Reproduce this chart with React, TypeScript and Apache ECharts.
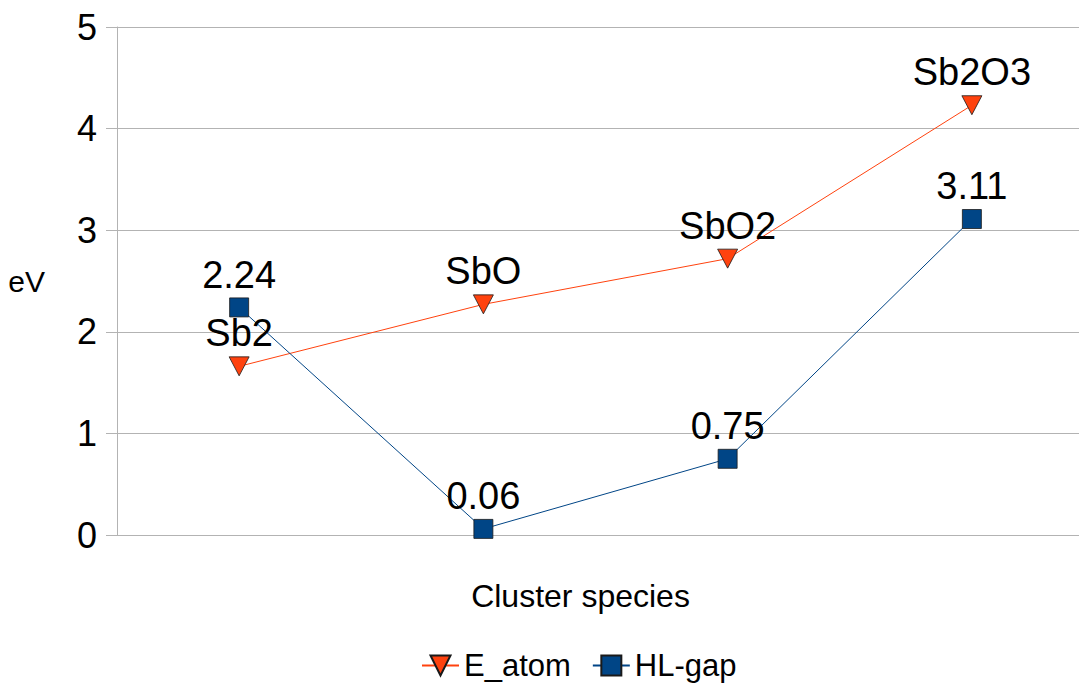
import React, { useEffect, useRef } from "react";
import * as echarts from "echarts";

// Cluster species on the category axis
const species = ["Sb2", "SbO", "SbO2", "Sb2O3"];
// Atomization energy per atom (eV)
const eAtom = [1.66, 2.27, 2.72, 4.23];
// HOMO-LUMO gap (eV)
const hlGap = [2.24, 0.06, 0.75, 3.11];
// Value axis ticks
const yTicks = [0, 1, 2, 3, 4, 5];

const FONT = "'Liberation Sans', Arial, sans-serif";
const ORANGE = "#ff420e";
const BLUE = "#004586";
const GRID = "#b3b3b3";

export default function App() {
  const ref = useRef<HTMLDivElement>(null);

  useEffect(() => {
    if (!ref.current) return;
    const chart = echarts.init(ref.current, null, { renderer: "svg" });
    chart.setOption({
      animation: false,
      backgroundColor: "#ffffff",
      textStyle: { fontFamily: FONT, color: "#000" },
      grid: {
        left: 117,
        top: 27,
        bottom: 151,
        right: -15,
        containLabel: false,
        outerBoundsMode: "none",
      },
      legend: {
        left: 416,
        top: 645,
        itemWidth: 37,
        itemHeight: 25,
        itemGap: 21,
        textStyle: { fontSize: 31, color: "#000", fontFamily: FONT },
        data: ["E_atom", "HL-gap"],
      },
      xAxis: {
        type: "category",
        data: species,
        boundaryGap: true,
        name: "Cluster species",
        nameLocation: "middle",
        nameGap: 45,
        nameTextStyle: {
          fontSize: 32,
          color: "#000",
          fontFamily: FONT,
          padding: [0, 50, 0, 0],
        },
        axisLine: { show: true, lineStyle: { color: GRID, width: 1 } },
        axisTick: { show: false },
        axisLabel: { show: false },
        splitLine: { show: false },
      },
      yAxis: {
        type: "value",
        min: yTicks[0],
        max: yTicks[yTicks.length - 1],
        interval: 1,
        name: "eV",
        nameLocation: "middle",
        nameRotate: 0,
        nameGap: 72,
        nameTextStyle: { fontSize: 30, color: "#000", fontFamily: FONT },
        axisLine: { show: true, lineStyle: { color: GRID, width: 1 } },
        axisTick: {
          show: true,
          inside: false,
          length: 11,
          lineStyle: { color: GRID, width: 1 },
        },
        axisLabel: {
          fontSize: 36,
          color: "#000",
          margin: 20,
          fontFamily: FONT,
        },
        splitLine: { show: true, lineStyle: { color: GRID, width: 1 } },
      },
      series: [
        {
          name: "E_atom",
          type: "line",
          data: eAtom,
          symbol: "triangle",
          symbolRotate: 180,
          symbolSize: [20, 19],
          lineStyle: { color: ORANGE, width: 1 },
          itemStyle: { color: ORANGE, borderColor: "#1a1a1a", borderWidth: 0.8 },
          label: {
            show: true,
            position: "top",
            distance: 4,
            formatter: "{b}",
            fontSize: 38,
            color: "#000",
            fontFamily: FONT,
          },
        },
        {
          name: "HL-gap",
          type: "line",
          data: hlGap,
          symbol: "rect",
          symbolSize: 19,
          lineStyle: { color: BLUE, width: 1 },
          itemStyle: { color: BLUE, borderColor: "#1a1a1a", borderWidth: 0.8 },
          label: {
            show: true,
            position: "top",
            distance: 4,
            formatter: "{c}",
            fontSize: 38,
            color: "#000",
            fontFamily: FONT,
          },
        },
      ],
    });
    return () => chart.dispose();
  }, []);

  return (
    <div
      ref={ref}
      style={{ position: "fixed", left: 0, top: 0, width: 1079, height: 686 }}
    />
  );
}
